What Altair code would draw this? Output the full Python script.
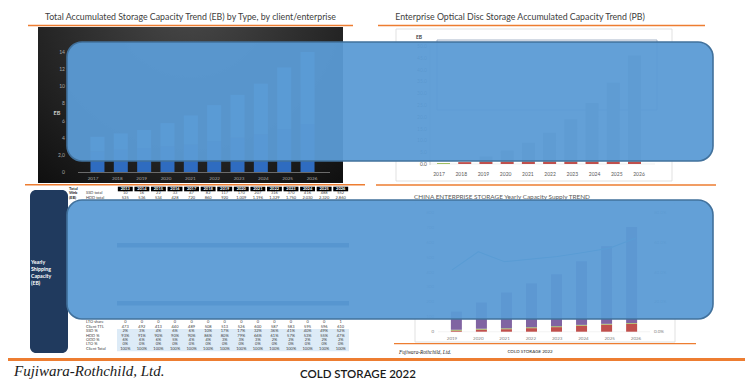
import altair as alt
import pandas as pd

# ---------------- data ----------------
tl_years = [2017, 2018, 2019, 2020, 2021, 2022, 2023, 2024, 2025, 2026]
tl_year_labels = ["2017", "2018", "2019", "2020", "2021", "2022", "2023", "2024", "2025", "2026"]
tl_hdd = [2.4, 2.6, 2.8, 3.0, 3.2, 3.6, 4.0, 4.4, 5.0, 5.6]
tl_ssd = [1.7, 1.9, 2.1, 2.7, 3.4, 4.2, 5.0, 5.9, 7.2, 8.4]
tl_ticks = [0, 2, 4, 6, 8, 10, 12, 14]
tl_tick_labels = ["0", "2,0", "4", "6", "8", "10", "12", "14"]

tr_green = [0.4, 0, 0, 0, 0, 0, 0, 0, 0, 0]
tr_red = [0, 0.8, 0.9, 1.0, 1.0, 1.0, 1.0, 1.0, 1.0, 1.0]
tr_gray = [0, 0, 2.3, 4.7, 8.0, 12.3, 17.9, 24.8, 33.4, 45.0]
tr_ticks = [0, 5, 10, 15, 20, 25, 30, 35, 40, 45, 50]
tr_tick_labels = ["0.0", "5.0", "10.0", "15.0", "20.0", "25.0", "30.0", "35.0", "40.0", "45.0", "50.0"]

tbl_years = [2013, 2014, 2015, 2016, 2017, 2018, 2019, 2020, 2021, 2022, 2023, 2024, 2025, 2026]
tbl_year_labels = ["2013", "2014", "2015", "2016", "2017", "2018", "2019", "2020", "2021", "2022", "2023", "2024", "2025", "2026"]
ssd_total = ["10", "16", "22", "33", "47", "82", "117", "170", "207", "316", "370", "416", "488", "552"]
hdd_total = ["535", "536", "534", "428", "720", "860", "920", "1,009", "1,196", "1,329", "1,750", "2,030", "2,320", "2,860"]
lto_share = ["0", "0", "0", "0", "0", "0", "0", "0", "0", "0", "0", "0", "0", "1"]
client_ttl = ["473", "492", "413", "440", "489", "508", "513", "526", "600", "587", "583", "595", "596", "610"]
ssd_pct = ["2%", "3%", "4%", "6%", "6%", "10%", "17%", "17%", "32%", "36%", "41%", "40%", "49%", "52%"]
hdd_pct = ["93%", "91%", "90%", "90%", "90%", "86%", "80%", "79%", "66%", "61%", "57%", "53%", "55%", "47%"]
odd_pct = ["6%", "6%", "6%", "5%", "4%", "4%", "3%", "3%", "3%", "2%", "2%", "2%", "2%", "2%"]
lto_pct = ["0%", "0%", "0%", "0%", "0%", "0%", "0%", "0%", "0%", "0%", "0%", "0%", "0%", "0%"]
client_total = ["100%", "100%", "100%", "100%", "100%", "100%", "100%", "100%", "100%", "100%", "100%", "100%", "100%", "100%"]
row_labels = ["SSD total", "HDD total", "LTO share", "Client TTL", "SSD %", "HDD %", "ODD %", "LTO %", "Client Total"]
row_index = [1, 2, 30, 31, 32, 33, 34, 35, 36]

br_years = [2019, 2020, 2021, 2022, 2023, 2024, 2025, 2026]
br_year_labels = ["2019", "2020", "2021", "2022", "2023", "2024", "2025", "2026"]
br_red = [7, 14, 17, 24, 31, 41, 48, 54]
br_olive = [6, 6, 6, 6, 6, 5, 5, 5]
br_purple = [123, 177, 242, 297, 351, 430, 525, 648]
br_line = [41.7, 54.0, 47.3, 49.0, 50.8, 53.5, 56.5, 63.3]
br_ticks = [0, 100, 200, 300, 400, 500, 600, 700, 800]
br_tick_labels = ["0", "100", "200", "300", "400", "500", "600", "700", "800"]
br_pct_ticks = [0, 20, 40, 60, 80]
br_pct_labels = ["0.0%", "20.0%", "40.0%", "60.0%", "80.0%"]

# ---------------- helpers ----------------
OX, OY = 8, 8
ONE = pd.DataFrame({"a": [0]})
ORANGE = "#ed7d31"
FONT = "Lato"


def VX(x):
    return alt.value(x - OX)


def VY(y):
    return alt.value(y - OY)


def xs(d0, d1, r0, r1):
    return alt.Scale(domain=[d0, d1], range=[r0 - OX, r1 - OX], nice=False, zero=False)


def ys(d0, d1, r0, r1):
    return alt.Scale(domain=[d0, d1], range=[r0 - OY, r1 - OY], nice=False, zero=False)


def rect(x1, y1, x2, y2, **kw):
    return alt.Chart(ONE).mark_rect(**kw).encode(x=VX(x1), x2=VX(x2), y=VY(y1), y2=VY(y2))


def hline(x1, x2, y, color=ORANGE, w=1.6):
    return alt.Chart(ONE).mark_rule(color=color, strokeWidth=w).encode(x=VX(x1), x2=VX(x2), y=VY(y))


def txt(x, y, s, **kw):
    kw.setdefault("font", FONT)
    kw.setdefault("baseline", "middle")
    return alt.Chart(ONE).mark_text(text=s, **kw).encode(x=VX(x), y=VY(y))


layers = []

# ---------------- top-left panel ----------------
layers.append(txt(190.5, 17, "Total Accumulated Storage Capacity Trend (EB) by Type, by client/enterprise",
                  fontSize=8.8, color="#404040"))
layers.append(hline(28, 353, 25.5))
dark = alt.Gradient(gradient="radial",
                    stops=[alt.GradientStop(color="#4a4a4a", offset=0),
                           alt.GradientStop(color="#0e0e0e", offset=1)],
                    x1=0.5, y1=0.15, r1=0, x2=0.5, y2=0.15, r2=0.8)
layers.append(rect(38, 27, 343, 183, fill=dark))

tl_x = xs(2016.5, 2026.5, 80.8, 324.2)
tl_y = ys(0, 14, 172, 52)
tl_df = pd.DataFrame({"year": tl_years * 2, "series": ["HDD"] * 10 + ["SSD"] * 10,
                      "value": tl_hdd + tl_ssd, "ord": [0] * 10 + [1] * 10})
layers.append(alt.Chart(ONE).mark_rule(color="#6b6b6b", strokeWidth=1).encode(x=VX(78), x2=VX(330), y=VY(172.5)))
layers.append(alt.Chart(tl_df).mark_bar(size=14, orient="vertical").encode(
    x=alt.X("year:Q", scale=tl_x, axis=None),
    y=alt.Y("value:Q", stack="zero", scale=tl_y, axis=None),
    color=alt.Color("series:N", scale=alt.Scale(domain=["HDD", "SSD"], range=["#2f6cc0", "#5b95d8"]), legend=None),
    order=alt.Order("ord:Q")))
tl_tick_df = pd.DataFrame({"v": tl_ticks, "lab": tl_tick_labels})
layers.append(alt.Chart(tl_tick_df).mark_text(align="right", baseline="middle", fontSize=5, color="#a6a6a6", font=FONT).encode(
    x=VX(65), y=alt.Y("v:Q", scale=tl_y, axis=None), text="lab:N"))
tl_lab_df = pd.DataFrame({"year": tl_years, "lab": tl_year_labels})
layers.append(alt.Chart(tl_lab_df).mark_text(baseline="middle", fontSize=4.6, color="#a6a6a6", font=FONT).encode(
    x=alt.X("year:Q", scale=tl_x, axis=None), y=VY(178.5), text="lab:N"))
layers.append(txt(57, 113, "EB", fontSize=5.5, fontWeight="bold", color="#d0d0d0"))

# ---------------- top-right panel ----------------
layers.append(txt(520, 17, "Enterprise Optical Disc Storage Accumulated Capacity Trend (PB)",
                  fontSize=8.8, color="#404040"))
layers.append(hline(378, 705, 25.5))
layers.append(rect(396, 29, 672, 181, fill="white", stroke="#d9d9d9", strokeWidth=0.8))
tr_x = xs(2016.5, 2026.5, 427.9, 650.1)
tr_y = ys(0, 50, 164, 46)
tr_tick_df = pd.DataFrame({"v": tr_ticks, "lab": tr_tick_labels})
layers.append(alt.Chart(tr_tick_df).mark_rule(color="#e6e6e6", strokeWidth=0.6).encode(
    x=VX(430), x2=VX(655), y=alt.Y("v:Q", scale=tr_y, axis=None)))
layers.append(alt.Chart(tr_tick_df).mark_text(align="right", baseline="middle", fontSize=5, color="#595959", font=FONT).encode(
    x=VX(427), y=alt.Y("v:Q", scale=tr_y, axis=None), text="lab:N"))
layers.append(rect(437, 40, 657, 110, fill="#eef2f8", stroke="#a6b4c8", strokeWidth=1))
tr_df = pd.DataFrame({"year": tl_years * 3,
                      "series": ["Archive"] * 10 + ["Cold"] * 10 + ["Total"] * 10,
                      "value": tr_green + tr_red + tr_gray,
                      "ord": [0] * 10 + [1] * 10 + [2] * 10})
layers.append(alt.Chart(tr_df).mark_bar(size=13, orient="vertical").encode(
    x=alt.X("year:Q", scale=tr_x, axis=None),
    y=alt.Y("value:Q", stack="zero", scale=tr_y, axis=None),
    color=alt.Color("series:N", scale=alt.Scale(domain=["Archive", "Cold", "Total"],
                                                 range=["#9bbb59", "#c0504d", "#a5a5a5"]), legend=None),
    order=alt.Order("ord:Q")))
layers.append(alt.Chart(ONE).mark_rule(color="#bfbfbf", strokeWidth=0.8).encode(x=VX(430), x2=VX(430), y=VY(46), y2=VY(165)))
layers.append(alt.Chart(tl_lab_df).mark_text(baseline="middle", fontSize=5, color="#595959", font=FONT).encode(
    x=alt.X("year:Q", scale=tr_x, axis=None), y=VY(174), text="lab:N"))
layers.append(txt(419, 37, "EB", fontSize=5, fontWeight="bold", color="#404040"))

# ---------------- middle orange lines ----------------
layers.append(hline(25, 365, 184.7))
layers.append(hline(376, 716, 185))

# ---------------- bottom-left table ----------------
layers.append(rect(30, 190, 68, 353, fill="#203a5e", cornerRadius=6))
for i, s in enumerate(["Yearly", "Shipping", "Capacity", "(EB)"]):
    layers.append(txt(31, 262 + 7 * i, s, fontSize=5.2, fontWeight="bold", color="white", align="left"))

tb_x = xs(2012.5, 2026.5, 117, 349)
tb_y = ys(0, 36, 189, 348.9)
layers.append(rect(117, 328.9, 349, 351.2, fill="#ddebf7"))
layers.append(rect(117, 243, 349, 247.5, fill="#1f3f6e"))
layers.append(rect(117, 301, 349, 305.5, fill="#1f3f6e"))
hdr_df = pd.DataFrame({"year": tbl_years, "lab": tbl_year_labels})
layers.append(alt.Chart(hdr_df).transform_calculate(x0="datum.year - 0.45", x1="datum.year + 0.45").mark_rect(color="black").encode(
    x=alt.X("x0:Q", scale=tb_x, axis=None), x2="x1:Q", y=VY(186.7), y2=VY(191.3)))
layers.append(alt.Chart(hdr_df).mark_text(baseline="middle", fontSize=4, fontWeight="bold", color="white", font=FONT).encode(
    x=alt.X("year:Q", scale=tb_x, axis=None), y=VY(189), text="lab:N"))

rows_vals = [ssd_total, hdd_total, lto_share, client_ttl, ssd_pct, hdd_pct, odd_pct, lto_pct, client_total]
recs = []
for r, vals in zip(row_index, rows_vals):
    for yv, v in zip(tbl_years, vals):
        recs.append({"year": yv, "row": r, "val": v})
tbl_df = pd.DataFrame(recs)
layers.append(alt.Chart(tbl_df).mark_text(baseline="middle", fontSize=4, color="#404040", font=FONT).encode(
    x=alt.X("year:Q", scale=tb_x, axis=None), y=alt.Y("row:Q", scale=tb_y, axis=None), text="val:N"))
lab_df = pd.DataFrame({"row": row_index, "lab": row_labels})
layers.append(alt.Chart(lab_df).mark_text(baseline="middle", align="left", fontSize=4, color="#404040", font=FONT).encode(
    x=VX(86), y=alt.Y("row:Q", scale=tb_y, axis=None), text="lab:N"))
lab2_df = pd.DataFrame({"row": [0, 1, 2], "lab": ["Total", "Web", "(EB)"]})
layers.append(alt.Chart(lab2_df).mark_text(baseline="middle", align="left", fontSize=4, fontWeight="bold", color="#262626", font=FONT).encode(
    x=VX(69), y=alt.Y("row:Q", scale=tb_y, axis=None), text="lab:N"))

# ---------------- bottom-right panel ----------------
layers.append(txt(502, 197, "CHINA ENTERPRISE STORAGE Yearly Capacity Supply TREND", fontSize=6.4, color="#595959"))
layers.append(rect(415, 203, 675, 342, fill="white", stroke="#d9d9d9", strokeWidth=0.8))
br_x = xs(2018.5, 2026.5, 438.85, 649.15)
br_y = ys(0, 800, 331.7, 213.3)
br_y2 = ys(0, 80, 331.7, 213.3)
br_tick_df = pd.DataFrame({"v": br_ticks, "lab": br_tick_labels})
layers.append(alt.Chart(br_tick_df).mark_rule(color="#ececec", strokeWidth=0.6).encode(
    x=VX(438), x2=VX(650), y=alt.Y("v:Q", scale=br_y, axis=None)))
layers.append(alt.Chart(br_tick_df).mark_text(align="right", baseline="middle", fontSize=4.5, color="#7f7f7f", font=FONT).encode(
    x=VX(434), y=alt.Y("v:Q", scale=br_y, axis=None), text="lab:N"))
br_pct_df = pd.DataFrame({"v": br_pct_ticks, "lab": br_pct_labels})
layers.append(alt.Chart(br_pct_df).mark_text(align="left", baseline="middle", fontSize=4.5, color="#7f7f7f", font=FONT).encode(
    x=VX(654), y=alt.Y("v:Q", scale=br_y2, axis=None), text="lab:N"))
br_df = pd.DataFrame({"year": br_years * 3,
                      "series": ["Enterprise"] * 8 + ["Optical"] * 8 + ["Other"] * 8,
                      "value": br_red + br_olive + br_purple,
                      "ord": [0] * 8 + [1] * 8 + [2] * 8})
layers.append(alt.Chart(br_df).mark_bar(size=11, orient="vertical").encode(
    x=alt.X("year:Q", scale=br_x, axis=None),
    y=alt.Y("value:Q", stack="zero", scale=br_y, axis=None),
    color=alt.Color("series:N", scale=alt.Scale(domain=["Enterprise", "Optical", "Other"],
                                                 range=["#c0504d", "#9bbb59", "#8064a2"]), legend=None),
    order=alt.Order("ord:Q")))
br_line_df = pd.DataFrame({"year": br_years, "pct": br_line})
layers.append(alt.Chart(br_line_df).mark_line(color="#4bacc6", strokeWidth=1.2).encode(
    x=alt.X("year:Q", scale=br_x, axis=None), y=alt.Y("pct:Q", scale=br_y2, axis=None)))
br_lab_df = pd.DataFrame({"year": br_years, "lab": br_year_labels})
layers.append(alt.Chart(br_lab_df).mark_text(baseline="middle", fontSize=4.5, color="#7f7f7f", font=FONT).encode(
    x=alt.X("year:Q", scale=br_x, axis=None), y=VY(338.5), text="lab:N"))
layers.append(hline(394, 696, 343.6, w=1.3))
layers.append(txt(399, 352, "Fujiwara-Rothchild, Ltd.", fontSize=5.2, fontStyle="italic", color="#262626",
                  align="left", font="Liberation Serif"))
layers.append(txt(530, 351.5, "COLD STORAGE 2022", fontSize=4.5, color="#262626"))

# ---------------- blue overlays ----------------
ov = dict(fill="#5b9bd5", fillOpacity=0.95, stroke="#41719c", strokeWidth=1.6, cornerRadius=15)
layers.append(rect(67, 42, 713, 161, **ov))
layers.append(rect(67, 200, 713, 319, **ov))

# ---------------- footer ----------------
layers.append(hline(8, 753, 359.5, w=3))
layers.append(txt(14, 375.5, "Fujiwara-Rothchild, Ltd.", fontSize=15, fontStyle="italic", color="#1a1a1a",
                  align="left", baseline="alphabetic", font="Liberation Serif"))
layers.append(txt(300, 377.5, "COLD STORAGE 2022", fontSize=11.5, fontWeight=600, color="#1a1a1a", align="left",
                  baseline="alphabetic"))

chart = alt.layer(*layers).resolve_scale(
    x="independent", y="independent", color="independent"
).properties(
    width=737, height=371, padding=0, autosize=alt.AutoSizeParams(type="none"), background="white"
).configure_view(stroke=None)

chart.save("out.html", embed_options={"renderer": "svg", "actions": False})
